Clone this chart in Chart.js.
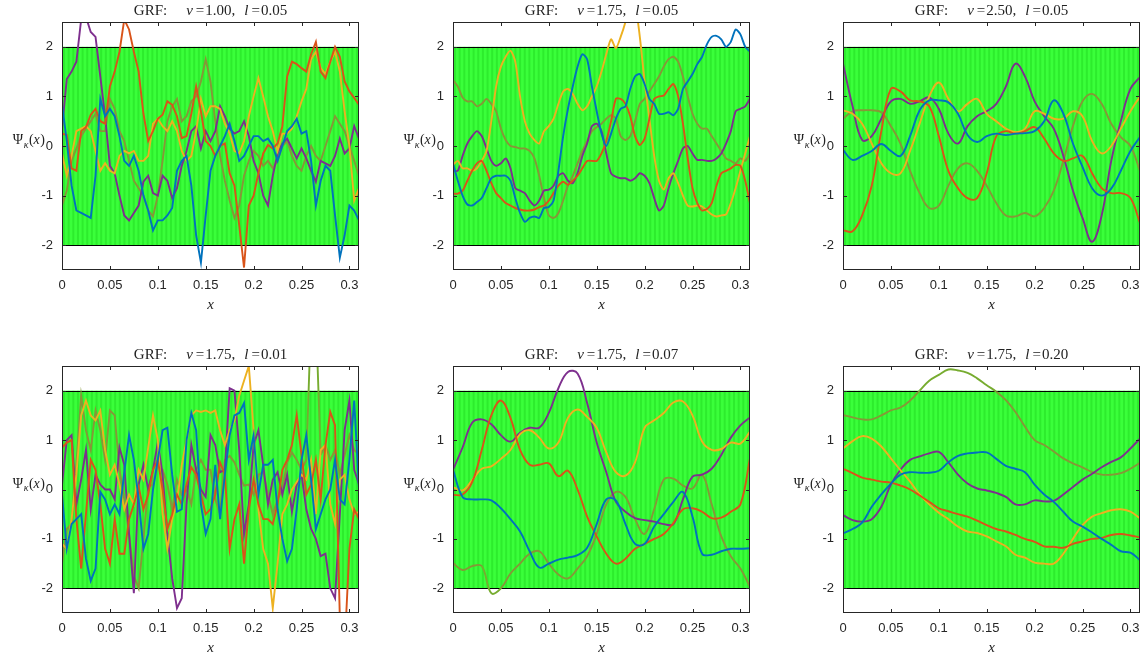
<!DOCTYPE html>
<html>
<head>
<meta charset="utf-8">
<script src="https://cdn.jsdelivr.net/npm/chart.js@4.4.1/dist/chart.umd.min.js"></script>
<style>
  html, body { margin: 0; padding: 0; background: #ffffff; }
  #page { position: relative; width: 1146px; height: 661px; overflow: hidden; background: #ffffff; }
  #page canvas { position: absolute; }
</style>
</head>
<body>
<div id="page"></div>
<script>
// ---- sample grids and ticks ----
const xFine = [0,0.005,0.01,0.015,0.02,0.025,0.03,0.035,0.04,0.045,0.05,0.055,0.06,0.065,0.07,0.075,0.08,0.085,0.09,0.095,
  0.1,0.105,0.11,0.115,0.12,0.125,0.13,0.135,0.14,0.145,0.15,0.155,0.16,0.165,0.17,0.175,0.18,0.185,0.19,0.195,
  0.2,0.205,0.21,0.215,0.22,0.225,0.23,0.235,0.24,0.245,0.25,0.255,0.26,0.265,0.27,0.275,0.28,0.285,0.29,0.295,
  0.3,0.305,0.31];
const xCoarse = [0,0.01,0.02,0.03,0.04,0.05,0.06,0.07,0.08,0.09,0.1,0.11,0.12,0.13,0.14,0.15,0.16,0.17,0.18,0.19,
  0.2,0.21,0.22,0.23,0.24,0.25,0.26,0.27,0.28,0.29,0.3,0.31];
const xTicks = [0, 0.05, 0.1, 0.15, 0.2, 0.25, 0.3];
const xTickLabels = ['0', '0.05', '0.1', '0.15', '0.2', '0.25', '0.3'];
const yTicks = [-2, -1, 0, 1, 2];
const yTickLabels = ['-2', '-1', '0', '1', '2'];
const bandLimits = [-2, 2];
const nuLabels = ['1.00', '1.75', '2.50', '1.75', '1.75', '1.75'];
const lLabels  = ['0.05', '0.05', '0.05', '0.01', '0.07', '0.20'];
const seriesColors = ['#0072BD', '#D95319', '#EDB120', '#7E2F8E', '#77AC30'];
const greenInBand = '#869738';

// ---- panel 1: nu = 1.00, l = 0.05 ----
const p1Blue = [0.85,0.1,-0.8,-1.3,-1.35,-1.4,-1.45,-0.6,0.95,0.6,0.75,0.6,0.2,-0.3,-0.4,-0.2,-0.5,-1.0,-1.3,-1.7,
  -1.5,-1.5,-1.4,-1.25,-0.5,-0.3,-0.2,-0.8,-1.8,-2.35,-1.4,-0.5,-0.2,0.0,0.2,0.45,0.1,-0.3,-0.2,0.0,
  0.2,0.2,0.1,0.15,0.0,-0.3,0.0,0.3,0.4,0.55,0.25,0.3,-0.3,-1.2,-0.7,-0.4,-0.5,-1.4,-2.25,-1.8,-1.2,-1.3,-1.5];
const p1Red = [0.25,0.22,-0.45,-0.5,0.3,0.38,0.63,0.75,0.5,0.45,1.2,1.5,1.9,2.55,2.35,1.9,1.5,0.65,0.1,0.3,
  0.55,0.63,0.9,0.83,0.6,0.16,0.2,0.65,1.2,0.7,0.1,0.0,-0.2,0.0,0.05,-0.55,-0.8,-1.6,-2.45,-1.2,
  -1.0,-0.55,-0.15,0.02,-0.05,0.05,0.4,1.4,1.7,1.65,1.57,1.5,1.85,2.1,1.5,1.37,1.7,2.0,1.8,1.3,1.1,0.97,0.83];
const p1Yellow = [-0.15,-0.6,-0.2,0.3,0.35,0.4,0.3,-0.1,-0.5,-0.35,-0.5,-0.55,-0.2,-0.1,-0.15,-0.1,-0.3,-0.3,-0.2,0.45,
  0.55,0.4,0.3,0.5,0.3,-0.1,-0.3,-0.2,0.3,0.95,0.6,0.8,0.8,0.75,0.45,0.25,-0.1,-0.15,0.1,0.6,
  1.0,1.37,1.0,0.6,0.3,-0.1,0.25,0.25,0.35,0.6,0.9,1.15,1.75,1.9,1.57,1.45,1.7,1.9,1.5,0.7,0.0,-1.1,-0.85];
const p1Purple = [0.35,1.35,1.5,1.7,2.55,2.6,2.3,2.2,1.4,0.6,-0.4,-0.55,-1.0,-1.4,-1.5,-1.35,-1.2,-0.72,-0.6,-0.95,
  -1.0,-0.6,-0.7,-1.05,-0.85,-0.4,-0.1,0.3,0.4,-0.05,0.3,0.1,0.3,0.8,0.6,0.35,0.25,0.3,0.5,0.2,
  -0.3,-0.55,-1.0,-1.2,-0.6,-0.15,0.05,0.15,-0.05,-0.25,-0.05,-0.25,-0.5,-0.72,-0.3,-0.35,-0.4,-0.2,0.15,-0.15,-0.05,0.4,0.15];
const p1Green = [-1.2,-0.9,-0.3,-0.05,0.2,0.35,0.5,0.65,0.3,0.3,0.95,0.75,0.3,0.1,-0.3,-0.7,-0.85,-1.0,-1.3,-1.42,
  -1.0,-0.3,0.5,0.8,0.95,0.5,0.6,0.9,1.0,1.3,1.75,1.3,0.5,-0.2,-0.7,-1.1,-1.45,-1.2,-0.6,-0.3,
  -0.1,-0.2,-0.4,-0.3,-0.45,-0.3,0.0,0.1,-0.2,-0.4,-0.5,-0.2,0.0,-0.2,-0.3,0.0,0.3,0.6,0.45,0.3,0.0,-0.3,-0.6];

// ---- panel 2: nu = 1.75, l = 0.05 ----
const p2Blue = [-0.35,-0.7,-1.0,-1.18,-1.2,-1.13,-1.05,-0.85,-0.65,-0.6,-0.6,-0.6,-0.7,-1.05,-1.35,-1.53,-1.45,-1.42,-1.45,-1.25,
  -1.23,-1.1,-0.5,0.2,0.75,1.2,1.6,1.85,1.75,1.2,0.7,0.25,0.0,0.25,0.55,0.75,0.8,1.15,1.4,1.45,
  1.25,0.95,0.85,0.65,0.65,0.68,0.62,0.75,1.15,1.3,1.45,1.65,1.8,2.05,2.2,2.22,2.15,2.0,2.1,2.35,2.25,2.0,1.9];
const p2Red = [-0.96,-0.96,-0.9,-0.7,-0.5,-0.35,-0.3,-0.5,-0.75,-0.95,-1.05,-1.15,-1.2,-1.25,-1.28,-1.3,-1.3,-1.28,-1.23,-1.2,
  -1.1,-0.95,-0.8,-0.72,-0.78,-0.7,-0.6,-0.45,-0.3,-0.3,-0.3,-0.15,0.1,0.5,0.95,0.95,0.85,0.6,0.2,0.02,
  0.15,0.55,0.95,1.0,1.02,1.15,1.25,1.0,0.45,-0.25,-0.85,-1.15,-1.3,-1.27,-1.15,-0.8,-0.55,-0.5,-0.45,-0.38,-0.4,-0.7,-1.15];
const p2Yellow = [-0.38,-0.3,-0.45,-0.45,-0.5,-0.45,-0.3,-0.1,0.5,1.2,1.6,1.8,1.92,1.7,1.0,0.5,0.25,0.12,0.05,0.3,
  0.4,0.55,0.85,1.1,1.15,1.05,0.85,0.72,0.8,1.0,1.2,1.5,1.85,2.15,1.97,2.2,2.5,2.9,2.85,2.2,
  1.3,0.55,-0.2,-0.7,-0.88,-0.65,-0.55,-0.75,-1.0,-1.2,-1.22,-1.2,-1.22,-1.3,-1.38,-1.42,-1.4,-1.38,-1.15,-0.85,-0.5,-0.15,0.2];
const p2Purple = [-0.5,-0.5,-0.2,0.05,0.2,0.3,0.2,-0.05,-0.3,-0.4,-0.35,-0.25,-0.45,-0.85,-0.9,-0.95,-1.1,-1.2,-1.1,-0.9,
  -0.88,-0.8,-0.6,-0.55,-0.7,-0.75,-0.55,-0.2,0.05,0.4,0.45,0.3,-0.15,-0.55,-0.62,-0.65,-0.65,-0.7,-0.65,-0.55,
  -0.6,-0.75,-1.05,-1.3,-1.2,-0.85,-0.55,-0.3,-0.05,0.0,-0.15,-0.28,-0.28,-0.3,-0.3,-0.25,-0.15,0.05,0.3,0.7,0.75,0.8,0.95];
const p2Green = [1.33,1.2,0.98,0.9,0.9,0.8,0.85,0.95,0.85,0.7,0.35,0.12,0.0,-0.02,-0.05,-0.05,-0.1,-0.25,-0.6,-1.05,
  -1.4,-1.45,-1.35,-1.1,-0.8,-0.6,-0.35,-0.1,0.1,0.3,0.38,0.45,0.55,0.62,0.55,0.2,0.12,0.2,0.5,0.85,
  0.95,1.1,1.25,1.4,1.6,1.75,1.8,1.7,1.4,1.0,0.65,0.45,0.35,0.35,0.2,0.05,-0.1,-0.25,-0.3,-0.35,-0.25,-0.3,-0.15];

// ---- panel 3: nu = 2.50, l = 0.05 ----
const p3Blue = [-0.08,-0.28,-0.2,-0.1,0.04,-0.1,-0.2,0.2,0.72,0.92,0.92,0.88,0.65,0.22,0.08,0.2,
  0.25,0.22,0.25,0.26,0.3,0.5,0.92,0.65,0.05,-0.42,-0.85,-1.0,-0.86,-0.5,-0.1,0.18];
const p3Red = [-1.7,-1.72,-1.4,-0.8,0.3,1.15,1.1,0.92,0.9,0.8,0.2,-0.5,-0.85,-1.05,-1.05,-0.55,
  0.2,0.3,0.25,0.3,0.38,0.15,-0.15,-0.3,-0.25,-0.2,-0.55,-0.85,-0.95,-0.95,-1.05,-1.55];
const p3Yellow = [0.72,0.65,0.45,0.05,-0.35,-0.55,-0.55,-0.1,0.45,1.0,1.28,0.95,0.7,0.85,0.95,0.65,
  0.5,0.35,0.28,0.35,0.7,0.65,0.55,0.55,0.7,0.6,0.1,-0.15,0.0,0.35,0.7,1.0];
const p3Purple = [1.66,0.8,0.12,0.2,0.55,0.9,0.95,0.85,0.9,0.98,0.75,0.25,0.05,0.4,0.6,0.7,
  0.85,1.2,1.66,1.4,0.9,0.6,0.35,-0.2,-0.9,-1.45,-1.93,-1.4,-0.3,0.5,1.15,1.39];
const p3Green = [0.55,0.7,0.72,0.72,0.68,0.4,0.05,-0.5,-0.95,-1.25,-1.2,-0.8,-0.45,-0.35,-0.5,-0.8,
  -1.15,-1.4,-1.42,-1.35,-1.42,-1.25,-0.9,-0.3,0.4,0.9,1.05,0.85,0.45,0.18,0.0,-0.5];

// ---- panel 4: nu = 1.75, l = 0.01 ----
const p4Blue = [-0.1,-1.2,-0.7,-0.6,-0.5,-1.4,-1.85,-1.6,-0.05,-0.2,-0.5,-0.3,-0.5,0.35,1.1,0.6,-0.2,-1.2,-0.9,0.0,
  0.6,1.2,1.25,0.3,-0.45,-0.4,1.0,1.55,1.2,-0.3,-0.9,-0.6,0.5,-0.6,0.3,1.1,1.5,1.55,1.75,0.6,
  1.1,-0.1,0.5,0.5,0.6,-0.4,-1.0,-1.45,-1.2,-0.4,0.6,1.1,0.2,-0.8,-0.5,-0.2,0.0,0.6,-0.2,-0.3,0.6,1.8,0.0];
const p4Red = [0.85,0.95,1.0,-0.6,-1.6,-0.5,0.6,0.4,-0.3,-1.2,-1.5,-0.6,-1.3,-1.3,-0.6,-0.3,0.05,-0.4,-0.1,0.4,
  0.6,0.0,-0.8,-0.5,-0.1,-0.3,0.1,0.45,0.3,-0.1,-0.5,-0.4,-0.1,0.55,0.3,-1.2,-0.6,-0.3,-1.5,-0.4,
  0.2,-0.3,-0.6,-0.6,-0.7,-0.3,0.4,0.6,0.9,1.5,0.7,-0.1,0.1,0.6,-0.2,0.9,1.57,1.3,-2.6,-3.2,-1.2,-0.4,-0.6];
const p4Yellow = [-1.1,-1.2,-0.6,0.3,1.5,1.8,1.5,1.4,1.6,0.8,0.3,0.5,0.1,-0.4,-0.1,-0.3,0.4,0.2,0.85,1.5,
  1.0,-0.5,-1.2,-0.6,-0.25,0.5,1.0,1.5,1.6,1.57,1.6,1.55,1.6,1.2,0.9,1.2,1.4,1.9,2.2,2.5,
  1.2,-0.4,-1.2,-1.5,-2.4,-1.5,-0.5,-0.3,0.0,0.15,0.3,0.2,0.6,-0.5,0.8,0.9,-0.3,-0.7,0.2,0.3,-0.2,-0.5,-0.45];
const p4Purple = [0.1,1.0,1.1,-0.3,0.2,0.8,-0.4,0.3,0.1,0.0,0.0,-0.2,0.85,0.5,-0.9,-2.1,0.1,0.5,0.0,0.4,
  0.95,0.3,-0.9,-1.8,-2.4,-2.2,-0.3,0.9,0.4,0.0,-0.15,1.1,0.9,0.35,0.4,2.05,2.0,0.8,-0.9,-0.3,
  0.9,1.2,0.5,-0.3,0.2,0.35,-0.1,0.3,-0.45,0.1,0.3,-0.4,-0.8,-1.0,-1.35,-1.3,-2.0,-2.2,-0.5,1.2,1.8,0.4,0.1];
const p4Green = [-1.5,-0.8,-0.7,0.5,1.9,1.2,0.8,1.6,1.2,0.6,1.6,1.5,0.4,-0.2,-0.9,-1.75,-2.0,-1.0,0.05,0.1,
  0.5,0.4,0.1,-0.4,0.2,-0.1,0.0,-0.3,0.4,0.6,0.4,0.4,-0.2,-0.5,0.6,0.68,0.55,0.3,0.08,0.1,
  -0.1,0.3,0.35,-0.1,-0.5,-0.2,0.0,0.55,0.75,0.6,0.4,0.6,3.5,3.5,0.7,0.9,0.6,0.8,0.3,0.7,1.1,0.8,0.7];

// ---- panel 5: nu = 1.75, l = 0.07 ----
const p5Blue = [0.4,-0.15,-0.2,-0.2,-0.22,-0.38,-0.6,-0.85,-1.25,-1.58,-1.5,-1.42,-1.38,-1.33,-1.18,-0.7,
  -0.2,-0.22,-0.7,-1.1,-1.1,-0.75,-0.5,-0.25,-0.05,-0.55,-1.3,-1.32,-1.25,-1.2,-1.2,-1.19];
const p5Red = [-0.11,-0.1,0.15,0.8,1.5,1.8,1.45,0.8,0.5,0.5,0.53,0.27,0.38,0.0,-0.55,-0.95,
  -1.3,-1.5,-1.4,-1.2,-1.1,-1.0,-0.9,-0.68,-0.4,-0.38,-0.45,-0.58,-0.57,-0.45,-0.3,0.63];
const p5Yellow = [0.05,-0.02,0.19,0.42,0.47,0.62,0.8,1.12,1.2,1.05,0.83,0.95,1.45,1.62,1.47,1.25,
  0.75,0.35,0.28,0.55,1.25,1.4,1.55,1.76,1.78,1.5,0.97,0.8,0.82,0.95,0.93,1.17];
const p5Purple = [0.4,0.85,1.35,1.42,1.32,1.1,0.97,1.15,1.25,1.25,1.55,2.05,2.38,2.35,1.75,0.95,
  0.35,-0.25,-0.45,-0.58,-0.62,-0.65,-0.7,-0.7,-0.2,0.26,0.3,0.42,0.7,1.05,1.3,1.46];
const p5Green = [-1.49,-1.63,-1.55,-1.55,-2.1,-2.0,-1.7,-1.5,-1.3,-1.25,-1.5,-1.72,-1.8,-1.6,-1.35,-0.9,
  -0.3,-0.05,-0.15,-0.6,-0.9,-0.4,0.2,0.22,0.08,0.02,0.3,-0.3,-0.95,-1.35,-1.6,-1.97];

// ---- panel 6: nu = 1.75, l = 0.20 ----
const p6Blue = [-0.89,-0.8,-0.67,-0.35,-0.1,0.12,0.3,0.35,0.34,0.34,0.38,0.55,0.68,0.73,0.75,0.75,
  0.62,0.48,0.42,0.35,0.1,-0.1,-0.25,-0.45,-0.65,-0.75,-0.87,-1.0,-1.12,-1.25,-1.28,-1.43];
const p6Red = [0.42,0.33,0.24,0.2,0.16,0.14,0.08,0.0,-0.12,-0.25,-0.38,-0.44,-0.5,-0.55,-0.63,-0.72,
  -0.8,-0.85,-0.92,-1.0,-1.06,-1.15,-1.16,-1.18,-1.1,-1.05,-1.0,-0.98,-0.92,-0.9,-0.93,-0.97];
const p6Yellow = [0.83,0.98,1.08,1.03,0.87,0.63,0.39,0.16,-0.1,-0.3,-0.47,-0.6,-0.75,-0.85,-0.88,-0.95,
  -1.05,-1.15,-1.32,-1.38,-1.48,-1.5,-1.5,-1.3,-1.0,-0.72,-0.55,-0.48,-0.42,-0.4,-0.45,-0.58];
const p6Purple = [-0.52,-0.62,-0.65,-0.6,-0.35,0.1,0.4,0.6,0.67,0.73,0.76,0.55,0.3,0.12,0.02,-0.02,
  -0.07,-0.15,-0.3,-0.3,-0.22,-0.24,-0.23,-0.1,0.05,0.2,0.32,0.45,0.56,0.65,0.83,1.03];
const p6Green = [1.51,1.46,1.42,1.42,1.5,1.6,1.66,1.8,2.0,2.2,2.32,2.43,2.41,2.36,2.25,2.11,
  1.98,1.81,1.57,1.27,1.0,0.9,0.77,0.63,0.53,0.45,0.35,0.3,0.3,0.33,0.42,0.54];

// ---- layout of the six axes (plot-area boxes in page pixels) ----
const PLOT_W = 297;
const MARGIN_L = 62, MARGIN_T = 22, MARGIN_R = 16, MARGIN_B = 52;
const Y_AXIS_W = 40, X_AXIS_H = 30;
const panels = [
  { left: 62,  top: 22,  h: 248, xs: xFine,   tension: 0,    ys: [p1Blue, p1Red, p1Yellow, p1Purple, p1Green] },
  { left: 453, top: 22,  h: 248, xs: xFine,   tension: 0.25, ys: [p2Blue, p2Red, p2Yellow, p2Purple, p2Green] },
  { left: 843, top: 22,  h: 248, xs: xCoarse, tension: 0.4,  ys: [p3Blue, p3Red, p3Yellow, p3Purple, p3Green] },
  { left: 62,  top: 366, h: 247, xs: xFine,   tension: 0,    ys: [p4Blue, p4Red, p4Yellow, p4Purple, p4Green] },
  { left: 453, top: 366, h: 247, xs: xCoarse, tension: 0.4,  ys: [p5Blue, p5Red, p5Yellow, p5Purple, p5Green] },
  { left: 843, top: 366, h: 247, xs: xCoarse, tension: 0.4,  ys: [p6Blue, p6Red, p6Yellow, p6Purple, p6Green] }
];

const SERIF = '"Liberation Serif", "Times New Roman", serif';
const SANS = '"Liberation Sans", Arial, Helvetica, sans-serif';
const AXIS_COLOR = '#262626';

// draws a run of [text, fontSpec, gapBefore, dy] pieces starting at x
function drawRun(ctx, pieces, x, y) {
  let cx = x;
  for (const [txt, font, gap, dy] of pieces) {
    cx += gap;
    ctx.font = font;
    ctx.fillText(txt, cx, y + (dy || 0));
    cx += ctx.measureText(txt).width;
  }
  return cx;
}
function runWidth(ctx, pieces) {
  let w = 0;
  for (const [txt, font, gap] of pieces) { ctx.font = font; w += gap + ctx.measureText(txt).width; }
  return w;
}

const panelDecor = {
  id: 'panelDecor',
  beforeDatasetsDraw(chart, args, opts) {
    const { ctx, chartArea: a, scales: { y } } = chart;
    const yHi = y.getPixelForValue(bandLimits[1]);
    const yLo = y.getPixelForValue(bandLimits[0]);
    ctx.save();
    // admissible band with its fine vertical banding
    ctx.fillStyle = '#3aff3a';
    ctx.fillRect(a.left, yHi, a.right - a.left, yLo - yHi);
    ctx.fillStyle = 'rgba(0,170,0,0.22)';
    const period = 4.65;
    for (let px = a.left + 1; px < a.right; px += period) {
      ctx.fillRect(px, yHi, 2, yLo - yHi);
    }
    ctx.strokeStyle = '#000000';
    ctx.lineWidth = 1.1;
    ctx.beginPath();
    ctx.moveTo(a.left, Math.round(yHi) + 0.5); ctx.lineTo(a.right, Math.round(yHi) + 0.5);
    ctx.moveTo(a.left, Math.round(yLo) + 0.5); ctx.lineTo(a.right, Math.round(yLo) + 0.5);
    ctx.stroke();
    ctx.restore();
  },
  afterDatasetsDraw(chart) {
    const { ctx, chartArea: a, scales: { x, y } } = chart;
    const L = Math.round(a.left) + 0.5, R = Math.round(a.right) - 0.5;
    const T = Math.round(a.top) + 0.5, B = Math.round(a.bottom) - 0.5;
    ctx.save();
    ctx.strokeStyle = AXIS_COLOR;
    ctx.lineWidth = 1;
    ctx.strokeRect(L, T, R - L, B - T);
    const tl = 3.5;
    ctx.beginPath();
    for (const v of xTicks) {
      const px = Math.round(x.getPixelForValue(v)) + 0.5;
      ctx.moveTo(px, B); ctx.lineTo(px, B - tl);
      ctx.moveTo(px, T); ctx.lineTo(px, T + tl);
    }
    for (const v of yTicks) {
      const py = Math.round(y.getPixelForValue(v)) + 0.5;
      ctx.moveTo(L, py); ctx.lineTo(L + tl, py);
      ctx.moveTo(R, py); ctx.lineTo(R - tl, py);
    }
    ctx.stroke();
    ctx.restore();
  },
  afterDraw(chart, args, opts) {
    const { ctx, chartArea: a } = chart;
    ctx.save();
    ctx.fillStyle = '#222222';
    ctx.textBaseline = 'alphabetic';
    ctx.textAlign = 'left';
    const rom = '15px ' + SERIF, ita = 'italic 15px ' + SERIF;
    // title
    const title = [
      ['GRF:', rom, 0], ['\u03bd', ita, 19], ['=', rom, 3], [opts.nu + ',', rom, 1],
      ['l', ita, 9], ['=', rom, 3], [opts.l, rom, 1]
    ];
    const tw = runWidth(ctx, title);
    const cxm = (a.left + a.right) / 2;
    drawRun(ctx, title, cxm - tw / 2, a.top - 7);
    // y label  Psi_kappa(x)
    const yrom = '14px ' + SERIF, yita = 'italic 14px ' + SERIF;
    const ylab = [
      ['\u03a8', yrom, 0], ['\u03ba', 'italic 10px ' + SERIF, 0.5, 3.5],
      ['(', yrom, 0.5], ['x', yita, 0], [')', yrom, 0.5]
    ];
    const yw = runWidth(ctx, ylab);
    const yc = (a.top + a.bottom) / 2;
    drawRun(ctx, ylab, a.left - 17 - yw, yc - 2);
    // x label
    ctx.font = 'italic 15px ' + SERIF;
    ctx.textAlign = 'center';
    ctx.fillText('x', cxm, a.bottom + 39);
    ctx.restore();
  }
};

// the green series reads darker where it crosses the band
function greenSegment(c) {
  const inBand = Math.abs(c.p0.parsed.y) <= 2 && Math.abs(c.p1.parsed.y) <= 2;
  return inBand ? greenInBand : seriesColors[4];
}

const page = document.getElementById('page');
panels.forEach((p, idx) => {
  const cv = document.createElement('canvas');
  const w = MARGIN_L + PLOT_W + MARGIN_R;
  const h = MARGIN_T + p.h + MARGIN_B;
  cv.width = w; cv.height = h;
  cv.style.width = w + 'px'; cv.style.height = h + 'px';
  cv.style.left = (p.left - MARGIN_L) + 'px';
  cv.style.top = (p.top - MARGIN_T) + 'px';
  page.appendChild(cv);

  const datasets = p.ys.map((ys, i) => {
    const ds = {
      data: p.xs.map((xv, j) => ({ x: xv, y: ys[j] })),
      borderColor: seriesColors[i],
      borderWidth: 1.9,
      pointRadius: 0,
      tension: p.tension,
      fill: false,
      clip: 0
    };
    if (i === 4) ds.segment = { borderColor: greenSegment };
    return ds;
  });

  new Chart(cv, {
    type: 'line',
    data: { datasets },
    options: {
      responsive: false,
      animation: false,
      devicePixelRatio: 1,
      events: [],
      layout: { padding: { left: MARGIN_L - Y_AXIS_W, top: MARGIN_T, right: MARGIN_R, bottom: MARGIN_B - X_AXIS_H } },
      plugins: {
        legend: { display: false },
        tooltip: { enabled: false },
        panelDecor: { nu: nuLabels[idx], l: lLabels[idx] }
      },
      scales: {
        x: {
          type: 'linear', min: 0, max: 0.31,
          afterBuildTicks: s => { s.ticks = xTicks.map(v => ({ value: v })); },
          afterFit: s => { s.height = X_AXIS_H; },
          grid: { display: false, drawTicks: false },
          border: { display: false },
          ticks: {
            autoSkip: false, maxRotation: 0, minRotation: 0, padding: 8,
            color: AXIS_COLOR, font: { family: SANS, size: 13 },
            callback: v => xTickLabels[xTicks.indexOf(v)]
          }
        },
        y: {
          type: 'linear', min: -2.5, max: 2.5,
          afterBuildTicks: s => { s.ticks = yTicks.map(v => ({ value: v })); },
          afterFit: s => { s.width = Y_AXIS_W; },
          grid: { display: false, drawTicks: false },
          border: { display: false },
          ticks: {
            autoSkip: false, padding: 9,
            color: AXIS_COLOR, font: { family: SANS, size: 13 },
            callback: v => yTickLabels[yTicks.indexOf(v)]
          }
        }
      }
    },
    plugins: [panelDecor]
  });
});
</script>
</body>
</html>
